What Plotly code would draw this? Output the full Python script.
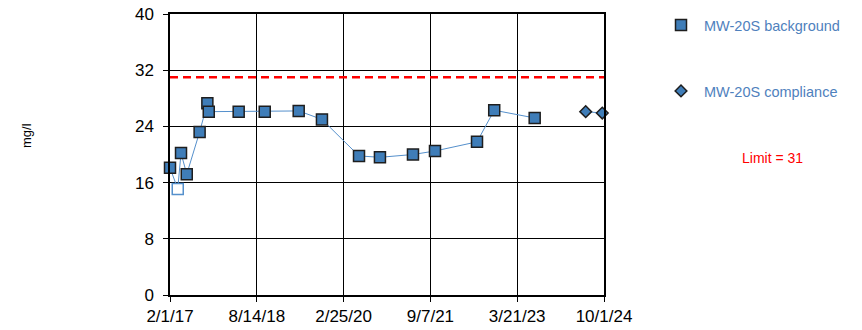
import datetime as dt
import plotly.graph_objects as go

# MW-20S sample results (mg/l)
bg_dates = ["2017-02-01", "2017-03-23", "2017-04-13", "2017-05-20", "2017-08-11",
            "2017-09-30", "2017-10-09", "2018-04-20", "2018-10-05", "2019-05-12",
            "2019-10-09", "2020-06-04", "2020-10-17", "2021-05-18", "2021-10-07",
            "2022-07-05", "2022-10-24", "2023-07-12"]
bg_values = [18.1, 15.1, 20.2, 17.2, 23.2, 27.3, 26.1, 26.1, 26.1, 26.2,
             25.0, 19.8, 19.6, 20.0, 20.5, 21.8, 26.3, 25.2]
# non-detect flags (drawn as hollow squares)
bg_nondetect = [False, True, False, False, False, False, False, False, False, False,
                False, False, False, False, False, False, False, False]

comp_dates = ["2024-06-05", "2024-09-20"]
comp_values = [26.1, 25.9]

LIMIT = 31
axis_start = "2017-02-01"
axis_end = "2024-10-01"
x_tick_labels = ["2/1/17", "8/14/18", "2/25/20", "9/7/21", "3/21/23", "10/1/24"]
y_ticks = [0, 8, 16, 24, 32, 40]

FILL = "#3F7DB8"
EDGE = "#1E1E1E"
LINE = "#5590CC"
TEXT_BLUE = "#4F81BD"
FONT = "Liberation Sans, Arial, sans-serif"

t0 = dt.datetime.fromisoformat(axis_start)
t1 = dt.datetime.fromisoformat(axis_end)
step = (t1 - t0) / (len(x_tick_labels) - 1)
x_tick_vals = [t0 + i * step for i in range(len(x_tick_labels))]

fig = go.Figure()

fig.add_trace(go.Scatter(
    x=[axis_start, axis_end], y=[LIMIT, LIMIT], mode="lines",
    line=dict(color="#FF0000", width=2.5, dash="8px,5px"),
    showlegend=False, hoverinfo="skip",
))

bg_marker = dict(symbol="square", size=11, color=FILL, line=dict(width=1.5, color=EDGE))
comp_marker = dict(symbol="diamond", size=9, color=FILL, line=dict(width=1.5, color=EDGE))

fig.add_trace(go.Scatter(
    x=bg_dates, y=bg_values, mode="lines+markers",
    line=dict(color=LINE, width=1),
    marker=dict(symbol="square", size=11,
                color=["#FFFFFF" if nd else FILL for nd in bg_nondetect],
                line=dict(width=1.5, color=[LINE if nd else EDGE for nd in bg_nondetect])),
    showlegend=False, cliponaxis=False,
))

fig.add_trace(go.Scatter(
    x=comp_dates, y=comp_values, mode="lines+markers",
    line=dict(color=LINE, width=1),
    marker=comp_marker, showlegend=False, cliponaxis=False,
))

# legend entries (markers only)
fig.add_trace(go.Scatter(x=[None], y=[None], mode="markers", name="MW-20S background",
                         marker=bg_marker, legend="legend"))
fig.add_trace(go.Scatter(x=[None], y=[None], mode="markers", name="MW-20S compliance",
                         marker=comp_marker, legend="legend2"))

fig.add_annotation(
    text=f"Limit = {LIMIT}", xref="paper", yref="paper",
    x=(772 - 170) / 434, y=(295 - 158) / 281, showarrow=False,
    xanchor="center", yanchor="middle",
    font=dict(family=FONT, size=14, color="#FF0000"),
)

fig.add_annotation(
    text="mg/l", xref="paper", yref="paper", x=(26 - 170) / 434, y=(295 - 136) / 281,
    showarrow=False, textangle=-90, xanchor="center", yanchor="middle",
    font=dict(family=FONT, size=13, color="#000000"),
)

legend_common = dict(
    xref="container", yref="container", xanchor="left", yanchor="middle",
    font=dict(family=FONT, size=14.5, color=TEXT_BLUE),
    bgcolor="rgba(0,0,0,0)", borderwidth=0, itemclick=False, itemwidth=36,
)

fig.update_layout(
    width=862, height=330,
    margin=dict(l=170, r=258, t=14, b=35, autoexpand=False),
    paper_bgcolor="white", plot_bgcolor="white",
    font=dict(family=FONT, size=17, color="#000000"),
    legend=dict(x=658 / 862, y=1 - 25 / 330, **legend_common),
    legend2=dict(x=658 / 862, y=1 - 91 / 330, **legend_common),
    xaxis=dict(
        type="date", range=[t0, t1],
        tickvals=x_tick_vals, ticktext=x_tick_labels,
        ticks="outside", ticklen=5, tickcolor="black", tickwidth=1,
        showgrid=True, gridcolor="black", gridwidth=1,
        showline=True, linecolor="black", linewidth=1.5, mirror=True,
        zeroline=False, tickfont=dict(size=17),
    ),
    yaxis=dict(
        range=[0, 40], tickvals=y_ticks,
        ticks="outside", ticklen=5, tickcolor="black", tickwidth=1,
        showgrid=True, gridcolor="black", gridwidth=1,
        showline=True, linecolor="black", linewidth=1.5, mirror=True,
        zeroline=False, tickfont=dict(size=17), ticklabelstandoff=6,
    ),
)

fig.write_html("out.html")
